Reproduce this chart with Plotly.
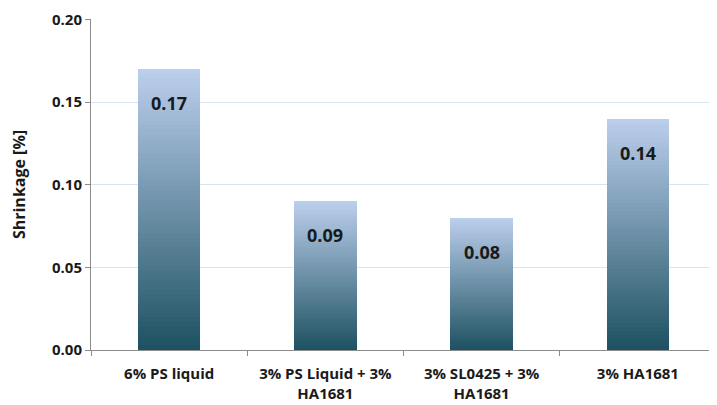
import plotly.graph_objects as go

categories = ["6% PS liquid", "3% PS Liquid + 3%<br>HA1681", "3% SL0425 + 3%<br>HA1681", "3% HA1681"]
values = [0.17, 0.09, 0.08, 0.14]
labels = ["0.17", "0.09", "0.08", "0.14"]
y_ticks = [0.0, 0.05, 0.10, 0.15, 0.20]

top_rgb = (187, 206, 236)
bot_rgb = (30, 82, 98)
N = 60

fig = go.Figure()
for k in range(N):
    f = k / (N - 1)
    c = tuple(int(round(bot_rgb[i] + (top_rgb[i] - bot_rgb[i]) * f)) for i in range(3))
    fig.add_trace(go.Bar(
        x=categories, y=[v / N for v in values],
        marker=dict(color="rgb(%d,%d,%d)" % c, line=dict(width=0)),
        showlegend=False, hoverinfo="skip",
    ))

for cat, v, t in zip(categories, values, labels):
    fig.add_annotation(x=cat, y=v, text="<b>%s</b>" % t, showarrow=False,
                       yanchor="top", yshift=-20,
                       font=dict(size=18, color="#1a1a1a", family="Open Sans"))

fig.update_layout(
    width=717, height=405,
    barmode="stack", bargap=0.6,
    margin=dict(l=83, r=9, t=11, b=63, autoexpand=False),
    plot_bgcolor="white", paper_bgcolor="white",
    font=dict(family="Open Sans", color="#1a1a1a"),
    yaxis=dict(range=[0, 0.2003], tickvals=y_ticks, tickformat=".2f",
               ticklabeloverflow="allow",
               showgrid=True, gridcolor="#d9e3f2", gridwidth=1,
               showline=True, linecolor="#8c8c8c", linewidth=1,
               ticks="outside", ticklen=5, tickcolor="#8c8c8c",
               tickfont=dict(size=15, family="Open Sans", weight="bold"),
               title=dict(text="<b>Shrinkage [%]</b>", font=dict(size=16), standoff=22),
               zeroline=False),
    xaxis=dict(showline=True, linecolor="#8c8c8c", linewidth=1,
               ticks="outside", ticklen=5, tickcolor="#8c8c8c", tickson="boundaries",
               ticklabelstandoff=10,
               tickfont=dict(size=15, family="Open Sans", weight="bold"),
               showgrid=False),
)

fig.write_html("out.html")
